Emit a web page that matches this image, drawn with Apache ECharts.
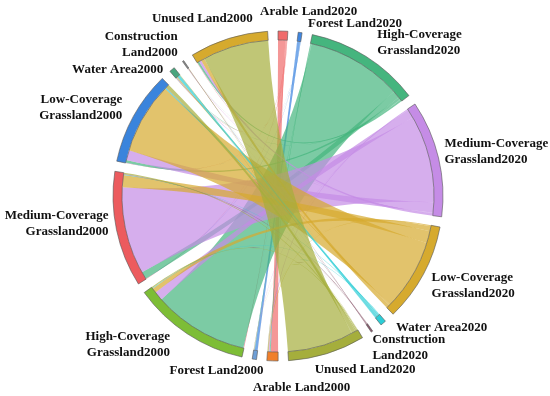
<!DOCTYPE html>
<html>
<head>
<meta charset="utf-8">
<script src="https://cdn.jsdelivr.net/npm/echarts@6/dist/echarts.min.js"></script>
<style>html,body{margin:0;padding:0;background:#fff}#c{width:550px;height:396px}</style>
</head>
<body>
<div id="c"></div>
<script>
// Land-use classes (same order for 2000 and 2020)
const classes = ['Arable Land', 'Forest Land', 'High-Coverage Grassland', 'Medium-Coverage Grassland',
  'Low-Coverage Grassland', 'Water Area', 'Construction Land', 'Unused Land'];
// Label text per node
const labels2020 = ['Arable Land2020', 'Forest Land2020', 'High-Coverage\nGrassland2020', 'Medium-Coverage\nGrassland2020',
  'Low-Coverage\nGrassland2020', 'Water Area2020', 'Construction\nLand2020', 'Unused Land2020'];
const labels2000 = ['Arable Land2000', 'Forest Land2000', 'High-Coverage\nGrassland2000', 'Medium-Coverage\nGrassland2000',
  'Low-Coverage\nGrassland2000', 'Water Area2000', 'Construction\nLand2000', 'Unused Land2000'];

// Transition areas from each 2000 class to the 2020 classes (order = classes)
const fromArable2000       = [18, 0.5, 2, 2, 2, 0.3, 0.5, 0.7];
const fromForest2000       = [0.3, 7, 1.2, 0.6, 0.5, 0.1, 0.1, 0.2];
const fromHighCov2000      = [1.5, 0.5, 235, 22, 12, 1, 0.5, 2.5];
const fromMediumCov2000    = [1, 0.3, 18, 215, 30, 1.5, 0.7, 3.5];
const fromLowCov2000       = [1, 0.3, 6, 25, 175, 3, 0.7, 9];
const fromWater2000        = [0.2, 0.1, 1, 1.5, 2, 7, 0.1, 1.1];
const fromConstruction2000 = [0.2, 0, 0.3, 0.3, 0.5, 0.1, 1.4, 0.2];
const fromUnused2000       = [0.8, 0.3, 4.5, 5.6, 9, 0.3, 0, 162.5];

// Styles
const colors2020 = ['#f06b6b', '#3f86e0', '#45b57e', '#c58ce6', '#d6aa2e', '#2ccdd6', '#8c5a6e', '#a5ae3c'];
const colors2000 = ['#f07f2a', '#6f9fd6', '#7dbd36', '#ec5b5e', '#3a84dc', '#4aa57e', '#8a8a8a', '#d6aa2e'];
// label nudges [dx, dy] (node order: 2020 classes then 2000 classes)
const labelNudges = [[-23, -5], [7, 5], [8, 7], [0, 11], [3, -7], [9, -8], [-3, -5], [-14, 2],
  [78, 13], [10, -3], [-14, -10], [-2, -23], [-6, 10], [-5, 13], [-2, 5], [26, -6]];

const matrix = [fromArable2000, fromForest2000, fromHighCov2000, fromMediumCov2000,
  fromLowCov2000, fromWater2000, fromConstruction2000, fromUnused2000];

const nodes = [];
classes.forEach((c, i) => nodes.push({ name: c + '2020', itemStyle: { color: colors2020[i] },
  label: { formatter: labels2020[i] } }));
classes.forEach((c, i) => nodes.push({ name: c + '2000', itemStyle: { color: colors2000[i] },
  label: { formatter: labels2000[i] } }));

const links = [];
matrix.forEach((row, i) => row.forEach((v, j) => {
  if (v > 0) links.push({ source: classes[i] + '2000', target: classes[j] + '2020', value: v });
}));

const chart = echarts.init(document.getElementById('c'));
chart.setOption({
  animation: false,
  series: [{
    type: 'chord',
    center: [278, 196],
    radius: [156, 165],
    startAngle: 90,
    clockwise: true,
    padAngle: 3.6,
    minAngle: 0.5,
    itemStyle: { borderColor: '#555', borderWidth: 0.6, borderRadius: 0 },
    lineStyle: { color: 'target', opacity: 0.7 },
    label: {
      show: true, position: 'outside', distance: 6,
      fontFamily: 'Liberation Serif', fontWeight: 'bold', fontSize: 13, lineHeight: 16, color: '#111'
    },
    labelLayout: function (p) {
      const n = labelNudges[p.dataIndex];
      return n ? { dx: n[0], dy: n[1] } : {};
    },
    data: nodes,
    links: links
  }]
});
</script>
</body>
</html>
